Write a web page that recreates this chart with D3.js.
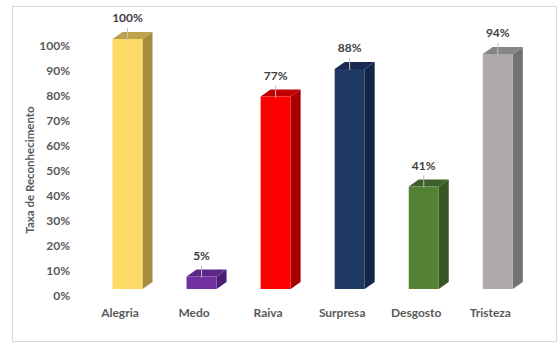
<!DOCTYPE html>
<html>
<head>
<meta charset="utf-8">
<script src="https://cdn.jsdelivr.net/npm/d3@7"></script>
<style>
  html, body { margin: 0; padding: 0; background: #fff; }
  svg { display: block; }
  text { font-family: Lato, "Liberation Sans", sans-serif; font-weight: bold; }
</style>
</head>
<body>
<svg id="chart" width="558" height="343"></svg>
<script>
// Emotion recognition rates
const categories = ["Alegria", "Medo", "Raiva", "Surpresa", "Desgosto", "Tristeza"];
const values = [1.00, 0.05, 0.77, 0.88, 0.41, 0.94];
const valueLabels = ["100%", "5%", "77%", "88%", "41%", "94%"];
const tickValues = [0, 0.1, 0.2, 0.3, 0.4, 0.5, 0.6, 0.7, 0.8, 0.9, 1.0];
const frontColors = ["#FFD966", "#7030A0", "#FF0000", "#1F3864", "#548235", "#AEAAAA"];
const sideColors  = ["#A68B40", "#4B2070", "#A80000", "#15254A", "#375623", "#747171"];
const topColors   = ["#BFA24C", "#5C2888", "#C00000", "#19294F", "#3F6129", "#878484"];

const svg = d3.select("#chart");

// outer frame
svg.append("rect")
  .attr("x", 12.5).attr("y", 6.5)
  .attr("width", 544).attr("height", 335)
  .attr("fill", "#fff").attr("stroke", "#D9D9D9");

const y = d3.scaleLinear().domain([0, 1]).range([289, 39]);
const x = d3.scalePoint().domain(categories).range([127.5, 497.8]);
const barW = 30, depthX = 10, depthY = -7;

// value axis
const yAxis = d3.axisLeft(y)
  .tickValues(tickValues)
  .tickSize(0)
  .tickPadding(0)
  .tickFormat(d3.format(".0%"));
const gy = svg.append("g")
  .attr("transform", "translate(70,6.5)")
  .call(yAxis);
gy.select(".domain").remove();
gy.selectAll("text")
  .attr("font-size", 12)
  .attr("font-family", "Lato, 'Liberation Sans', sans-serif")
  .attr("font-weight", "bold")
  .attr("fill", "#595959");

// axis title
svg.append("text")
  .attr("transform", "translate(34,170) rotate(-90)")
  .attr("text-anchor", "middle")
  .attr("font-size", 11.5)
  .attr("fill", "#595959")
  .text("Taxa de Reconhecimento");

// 3D bars
const bars = svg.append("g").selectAll("g")
  .data(categories.map((c, i) => ({ c, v: values[i], i })))
  .join("g");

bars.append("path") // side face
  .attr("fill", d => sideColors[d.i])
  .attr("d", d => {
    const x1 = x(d.c) + barW / 2, yt = y(d.v), yb = y(0);
    return `M${x1},${yt}L${x1 + depthX},${yt + depthY}L${x1 + depthX},${yb + depthY}L${x1},${yb}Z`;
  });

bars.append("path") // top face
  .attr("fill", d => topColors[d.i])
  .attr("d", d => {
    const x0 = x(d.c) - barW / 2, x1 = x(d.c) + barW / 2, yt = y(d.v);
    return `M${x0},${yt}L${x0 + depthX},${yt + depthY}L${x1 + depthX},${yt + depthY}L${x1},${yt}Z`;
  });

bars.append("rect") // front face
  .attr("fill", d => frontColors[d.i])
  .attr("x", d => x(d.c) - barW / 2)
  .attr("y", d => y(d.v))
  .attr("width", barW)
  .attr("height", d => y(0) - y(d.v));

// leader lines
bars.append("line")
  .attr("x1", d => x(d.c)).attr("x2", d => x(d.c))
  .attr("y1", d => y(d.v) - 11)
  .attr("y2", d => y(d.v) + 1)
  .attr("stroke", "#BFBFBF")
  .attr("stroke-width", 1);

// value labels
bars.append("text")
  .attr("x", d => x(d.c))
  .attr("y", d => y(d.v) - 21)
  .attr("dy", "0.35em")
  .attr("text-anchor", "middle")
  .attr("font-size", 12)
  .attr("fill", "#404040")
  .text(d => valueLabels[d.i]);

// category labels
svg.append("g").selectAll("text")
  .data(categories)
  .join("text")
  .attr("x", d => x(d) - 7.5)
  .attr("y", 313)
  .attr("dy", "0.35em")
  .attr("text-anchor", "middle")
  .attr("font-size", 12)
  .attr("fill", "#595959")
  .text(d => d);
</script>
</body>
</html>
